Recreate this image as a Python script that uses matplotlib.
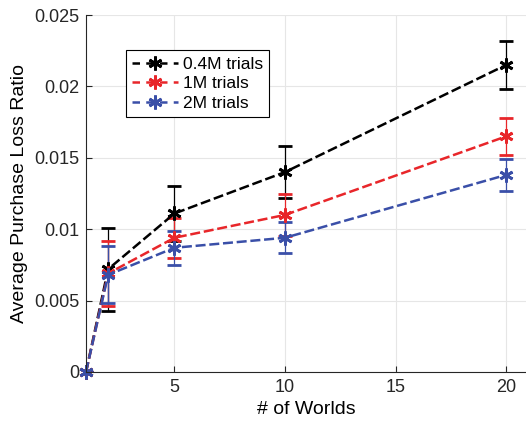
import numpy as np
import matplotlib.pyplot as plt
from matplotlib.lines import Line2D

plt.rcParams['font.family'] = ['Liberation Sans', 'DejaVu Sans']

worlds = [1, 2, 5, 10, 20]

loss_04m = [0.0, 0.0072, 0.0111, 0.0140, 0.0215]
err_04m = [0.0, 0.0029, 0.0019, 0.0018, 0.0017]

loss_1m = [0.0, 0.0069, 0.0094, 0.0110, 0.0165]
err_1m = [0.0, 0.0023, 0.0014, 0.0015, 0.0013]

loss_2m = [0.0, 0.0068, 0.0087, 0.0094, 0.0138]
err_2m = [0.0, 0.0020, 0.0012, 0.0011, 0.0011]

labels = ['0.4M trials', '1M trials', '2M trials']
colors = ['black', '#e8262a', '#3a4fa8']

fig = plt.figure(figsize=(5.26, 4.28), dpi=100)
ax = fig.add_axes([86/526, 56/428, 1 - 86/526, (372-15)/428])

star = (6, 2, 0)
handles = []
for y, e, c, lab in zip([loss_04m, loss_1m, loss_2m], [err_04m, err_1m, err_2m], colors, labels):
    cont = ax.errorbar(worlds, y, yerr=e, color=c, ls='--', lw=1.8, marker=star,
                       ms=10, mew=2.0, capsize=5, elinewidth=0.9, capthick=0.9,
                       dashes=(4, 1.5))
    cont[0].set_clip_on(False)
    handles.append(Line2D([], [], color=c, lw=1.8, ls='--', dashes=(3, 2.5),
                          marker=star, ms=10, mew=2.0, label=lab))

ax.set_xlim(1, 20.9)
ax.set_ylim(0, 0.025)
ax.set_xticks([5, 10, 15, 20])
ax.set_yticks([0, 0.005, 0.01, 0.015, 0.02, 0.025])
ax.set_yticklabels(['0', '0.005', '0.01', '0.015', '0.02', '0.025'])
ax.grid(True, color='#e6e6e6', lw=0.8)
ax.set_axisbelow(True)
ax.tick_params(direction='in', labelsize=13, colors='#262626', length=4, pad=5)
for s in ['top', 'right']:
    ax.spines[s].set_visible(False)
for s in ['left', 'bottom']:
    ax.spines[s].set_color('#262626')
ax.set_xlabel('# of Worlds', fontsize=14)
ax.set_ylabel('Average Purchase Loss Ratio', fontsize=14)

leg = ax.legend(handles=handles, loc='upper left', bbox_to_anchor=(0.072, 0.925), fontsize=12.5,
                handlelength=2.6, borderpad=0.35, labelspacing=0.25,
                handletextpad=0.3, fancybox=False, framealpha=1)
leg.get_frame().set_edgecolor('black')
leg.get_frame().set_linewidth(0.8)

fig.savefig('out.png', dpi=100)
